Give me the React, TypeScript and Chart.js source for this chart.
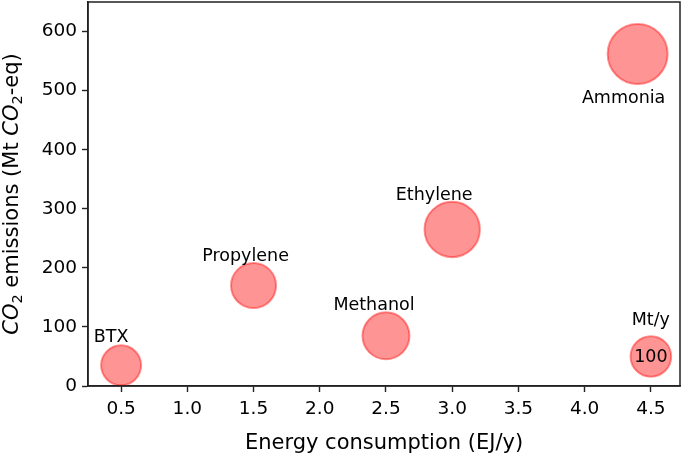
import React, { useEffect, useRef } from "react";
import { Chart, registerables } from "chart.js";

Chart.register(...registerables);

// ---- data ----
const categories = ["BTX", "Propylene", "Methanol", "Ethylene", "Ammonia"];
const energyEJ = [0.5, 1.5, 2.5, 3.0, 4.4];
const emissionsMt = [35, 170, 85, 265, 562];
const productionMt = [97, 123, 134, 186, 218];

const refBubbleX = 4.5;
const refBubbleY = 50;
const refProduction = 100;
const refUnitLabel = "Mt/y";

const xTickValues = [0.5, 1.0, 1.5, 2.0, 2.5, 3.0, 3.5, 4.0, 4.5];
const xTickLabels = ["0.5", "1.0", "1.5", "2.0", "2.5", "3.0", "3.5", "4.0", "4.5"];
const yTickValues = [0, 100, 200, 300, 400, 500, 600];
const yTickLabels = ["0", "100", "200", "300", "400", "500", "600"];

// label offsets in pixels (style)
const labelOffsets: [number, number][] = [
  [-10, -28],
  [-8, -29],
  [-12, -30],
  [-18, -34],
  [-14, 44],
];

const FONT = "'DejaVu Sans', sans-serif";
const TEXT = "#000";
const AXIS = "#222";
const radiusFor = (v: number) => 20.3 * Math.sqrt(v / 100);

export default function App() {
  const ref = useRef<HTMLCanvasElement | null>(null);

  useEffect(() => {
    document.body.style.margin = "0";
    const canvas = ref.current;
    if (!canvas) return;

    const points = categories.map((c, i) => ({
      x: energyEJ[i],
      y: emissionsMt[i],
      r: radiusFor(productionMt[i]),
    }));
    points.push({ x: refBubbleX, y: refBubbleY, r: radiusFor(refProduction) });

    const framePlugin = {
      id: "frame",
      afterDraw(chart: any) {
        const { ctx, chartArea: a } = chart;
        ctx.save();
        ctx.strokeStyle = AXIS;
        ctx.lineWidth = 1.5;
        ctx.strokeRect(a.left, a.top, a.right - a.left, a.bottom - a.top);
        ctx.restore();
      },
    };

    const labelPlugin = {
      id: "bubbleLabels",
      afterDatasetsDraw(chart: any) {
        const { ctx, scales } = chart;
        const xs = scales.x;
        const ys = scales.y;
        ctx.save();
        ctx.fillStyle = TEXT;
        ctx.font = `17.5px ${FONT}`;
        ctx.textAlign = "center";
        ctx.textBaseline = "middle";
        categories.forEach((c, i) => {
          const px = xs.getPixelForValue(energyEJ[i]) + labelOffsets[i][0];
          const py = ys.getPixelForValue(emissionsMt[i]) + labelOffsets[i][1];
          ctx.fillText(c, px, py);
        });
        const rx = xs.getPixelForValue(refBubbleX);
        const ry = ys.getPixelForValue(refBubbleY);
        ctx.fillText(refUnitLabel, rx, ry - 36);
        ctx.fillText(String(refProduction), rx, ry + 1);
        ctx.restore();
      },
    };

    const yTitlePlugin = {
      id: "yTitle",
      afterDraw(chart: any) {
        const { ctx, chartArea: a } = chart;
        const size = 21;
        const sub = 14.5;
        const parts: { t: string; italic?: boolean; sub?: boolean }[] = [
          { t: "CO", italic: true },
          { t: "2", sub: true },
          { t: " emissions (Mt " },
          { t: "CO", italic: true },
          { t: "2", sub: true },
          { t: "-eq)" },
        ];
        const fontOf = (p: any) =>
          `${p.italic ? "italic " : ""}${p.sub ? sub : size}px ${FONT}`;
        ctx.save();
        let total = 0;
        parts.forEach((p) => {
          ctx.font = fontOf(p);
          total += ctx.measureText(p.t).width;
        });
        const cy = (a.top + a.bottom) / 2;
        ctx.translate(13, cy);
        ctx.rotate(-Math.PI / 2);
        ctx.fillStyle = TEXT;
        ctx.textBaseline = "middle";
        ctx.textAlign = "left";
        let x = -total / 2;
        parts.forEach((p) => {
          ctx.font = fontOf(p);
          ctx.fillText(p.t, x, p.sub ? 5 : 0);
          x += ctx.measureText(p.t).width;
        });
        ctx.restore();
      },
    };

    const chart = new Chart(canvas, {
      type: "bubble",
      data: {
        datasets: [
          {
            data: points,
            backgroundColor: "rgba(255,0,0,0.42)",
            borderColor: "rgba(255,0,0,0.42)",
            borderWidth: 2,
          },
        ],
      },
      options: {
        animation: false,
        responsive: false,
        layout: { autoPadding: false, padding: { left: 0, right: 5, top: 2, bottom: 1 } },
        plugins: { legend: { display: false }, tooltip: { enabled: false } },
        scales: {
          x: {
            type: "linear",
            min: 0.25,
            max: 4.72,
            afterBuildTicks(scale: any) {
              scale.ticks = xTickValues.map((v) => ({ value: v }));
            },
            afterFit(scale: any) {
              scale.height = 70;
              scale.paddingLeft = 0;
              scale.paddingRight = 0;
            },
            ticks: {
              callback: (v: any) => {
                const i = xTickValues.findIndex((t) => Math.abs(t - Number(v)) < 1e-9);
                return i >= 0 ? xTickLabels[i] : "";
              },
              font: { family: FONT, size: 18.5 },
              color: TEXT,
              padding: 6,
              maxRotation: 0,
              autoSkip: false,
            },
            grid: {
              drawOnChartArea: false,
              drawTicks: true,
              tickLength: 6,
              tickColor: AXIS,
              tickWidth: 1.4,
            },
            border: { display: true, color: AXIS, width: 1.5 },
            title: {
              display: true,
              text: "Energy consumption (EJ/y)",
              font: { family: FONT, size: 21 },
              color: TEXT,
              padding: { top: 0, bottom: 0 },
            },
          },
          y: {
            type: "linear",
            min: 0,
            max: 650,
            afterBuildTicks(scale: any) {
              scale.ticks = yTickValues.map((v) => ({ value: v }));
            },
            afterFit(scale: any) {
              scale.width = 88;
              scale.paddingTop = 0;
              scale.paddingBottom = 0;
            },
            ticks: {
              callback: (v: any) => {
                const i = yTickValues.indexOf(Number(v));
                return i >= 0 ? yTickLabels[i] : "";
              },
              font: { family: FONT, size: 18.5 },
              color: TEXT,
              padding: 5,
              autoSkip: false,
            },
            grid: {
              drawOnChartArea: false,
              drawTicks: true,
              tickLength: 6,
              tickColor: AXIS,
              tickWidth: 1.4,
            },
            border: { display: true, color: AXIS, width: 1.5 },
            title: { display: false },
          },
        },
      },
      plugins: [framePlugin, labelPlugin, yTitlePlugin],
    });

    return () => chart.destroy();
  }, []);

  return (
    <div style={{ width: 685, height: 457 }}>
      <canvas ref={ref} width={685} height={457} />
    </div>
  );
}
